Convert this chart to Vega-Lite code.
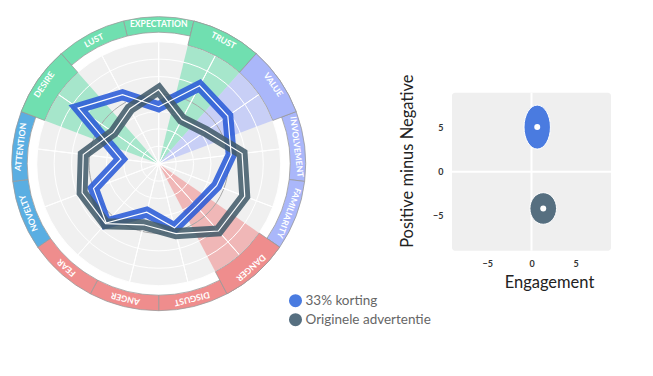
{
  "$schema": "https://vega.github.io/schema/vega-lite/v6.json",
  "padding": {"left": 9.7, "top": 14.7, "right": 0, "bottom": 0},
  "config": {"view": {"stroke": null}, "font": "Lato"},
  "datasets": {
    "cats": [
      {"i": 0, "cat": "EXPECTATION", "group": "g", "hl": "n"},
      {"i": 1, "cat": "TRUST", "group": "g", "hl": "y"},
      {"i": 2, "cat": "VALUE", "group": "v", "hl": "y"},
      {"i": 3, "cat": "INVOLVEMENT", "group": "v", "hl": "n"},
      {"i": 4, "cat": "FAMILIARITY", "group": "v", "hl": "n"},
      {"i": 5, "cat": "DANGER", "group": "r", "hl": "y"},
      {"i": 6, "cat": "DISGUST", "group": "r", "hl": "n"},
      {"i": 7, "cat": "ANGER", "group": "r", "hl": "n"},
      {"i": 8, "cat": "FEAR", "group": "r", "hl": "n"},
      {"i": 9, "cat": "NOVELTY", "group": "b", "hl": "n"},
      {"i": 10, "cat": "ATTENTION", "group": "b", "hl": "n"},
      {"i": 11, "cat": "DESIRE", "group": "g", "hl": "y"},
      {"i": 12, "cat": "LUST", "group": "g", "hl": "n"}
    ],
    "grid": [{"k": 1}, {"k": 2}, {"k": 3}, {"k": 4}, {"k": 5}, {"k": 6}],
    "radar": [
      {"series": "33% korting", "i": 0, "cat": "EXPECTATION", "v": 3.27},
      {"series": "33% korting", "i": 1, "cat": "TRUST", "v": 5.05},
      {"series": "33% korting", "i": 2, "cat": "VALUE", "v": 4.82},
      {"series": "33% korting", "i": 3, "cat": "INVOLVEMENT", "v": 4.19},
      {"series": "33% korting", "i": 4, "cat": "FAMILIARITY", "v": 3.56},
      {"series": "33% korting", "i": 5, "cat": "DANGER", "v": 3.27},
      {"series": "33% korting", "i": 6, "cat": "DISGUST", "v": 3.79},
      {"series": "33% korting", "i": 7, "cat": "ANGER", "v": 2.87},
      {"series": "33% korting", "i": 8, "cat": "FEAR", "v": 4.55},
      {"series": "33% korting", "i": 9, "cat": "NOVELTY", "v": 4.0},
      {"series": "33% korting", "i": 10, "cat": "ATTENTION", "v": 2.18},
      {"series": "33% korting", "i": 11, "cat": "DESIRE", "v": 5.62},
      {"series": "33% korting", "i": 12, "cat": "LUST", "v": 4.47},
      {"series": "Originele advertentie", "i": 0, "cat": "EXPECTATION", "v": 4.25},
      {"series": "Originele advertentie", "i": 1, "cat": "TRUST", "v": 2.87},
      {"series": "Originele advertentie", "i": 2, "cat": "VALUE", "v": 3.27},
      {"series": "Originele advertentie", "i": 3, "cat": "INVOLVEMENT", "v": 4.82},
      {"series": "Originele advertentie", "i": 4, "cat": "FAMILIARITY", "v": 5.28},
      {"series": "Originele advertentie", "i": 5, "cat": "DANGER", "v": 5.16},
      {"series": "Originele advertentie", "i": 6, "cat": "DISGUST", "v": 4.13},
      {"series": "Originele advertentie", "i": 7, "cat": "ANGER", "v": 3.61},
      {"series": "Originele advertentie", "i": 8, "cat": "FEAR", "v": 4.6},
      {"series": "Originele advertentie", "i": 9, "cat": "NOVELTY", "v": 4.7},
      {"series": "Originele advertentie", "i": 10, "cat": "ATTENTION", "v": 4.36},
      {"series": "Originele advertentie", "i": 11, "cat": "DESIRE", "v": 3.16},
      {"series": "Originele advertentie", "i": 12, "cat": "LUST", "v": 3.56}
    ],
    "scatter": [
      {"series": "33% korting", "x": 0.65, "y": 5.08},
      {"series": "Originele advertentie", "x": 1.33, "y": -4.19}
    ]
  },
  "bounds": "flush",
  "spacing": 146.3,
  "resolve": {"scale": {"color": "independent"}, "legend": {"color": "independent"}},
  "hconcat": [
    {
      "width": 294,
      "height": 294,
      "resolve": {"scale": {"theta": "independent"}},
      "layer": [
        {
          "data": {"values": [{}]},
          "mark": {"type": "arc", "radius": 122, "fill": "#f0f0f0"},
          "encoding": {}
        },
        {
          "data": {"name": "cats"},
          "mark": {"type": "arc", "radius": 122, "radius2": 0},
          "encoding": {
            "theta": {"aggregate": "count", "type": "quantitative", "stack": true, "scale": {"domain": [0, 13], "range": [-0.24166, 6.04152]}},
            "order": {"field": "i", "type": "quantitative"},
            "detail": [{"field": "cat"}, {"field": "hl"}],
            "fill": {"field": "group", "type": "nominal", "scale": {"domain": ["g", "v", "r", "b"], "range": ["#70dfb0", "#aab7fa", "#ef8d8d", "#5aaee2"]}, "legend": null},
            "fillOpacity": {"condition": {"test": "datum.hl == 'y'", "value": 0.58}, "value": 0}
          }
        },
        {
          "data": {"name": "grid"},
          "mark": {"type": "point", "shape": "circle", "filled": false, "strokeWidth": 1, "opacity": 1},
          "encoding": {
            "size": {"field": "k", "type": "quantitative", "scale": {"type": "pow", "exponent": 2, "domain": [0, 7], "range": [0, 59536]}, "legend": null},
            "stroke": {"condition": {"test": "datum.k == 4", "value": "#a8a8a8"}, "value": "#ffffff"}
          }
        },
        {
          "data": {"name": "cats"},
          "mark": {"type": "arc", "radius": 122, "radius2": 0, "filled": false, "stroke": "#ffffff", "strokeWidth": 1},
          "encoding": {
            "theta": {"aggregate": "count", "type": "quantitative", "stack": true, "scale": {"domain": [0, 13], "range": [0, 6.28319]}},
            "order": {"field": "i", "type": "quantitative"},
            "detail": {"field": "cat"}
          }
        },
        {
          "data": {"name": "radar"},
          "transform": [
            {"calculate": "datum.v * sin(2 * PI * datum.i / 13)", "as": "px"},
            {"calculate": "datum.v * cos(2 * PI * datum.i / 13)", "as": "py"}
          ],
          "mark": {"type": "line", "interpolate": "linear-closed", "strokeWidth": 11, "opacity": 0.88, "strokeJoin": "miter"},
          "encoding": {
            "x": {"field": "px", "type": "quantitative", "scale": {"domain": [-8.434, 8.434], "nice": false, "zero": false}, "axis": null},
            "y": {"field": "py", "type": "quantitative", "scale": {"domain": [-8.434, 8.434], "nice": false, "zero": false}, "axis": null},
            "stroke": {"field": "series", "type": "nominal", "scale": {"domain": ["33% korting", "Originele advertentie"], "range": ["#2a5bd7", "#435c6b"]}, "legend": null},
            "order": {"field": "i", "type": "quantitative"}
          }
        },
        {
          "data": {"name": "radar"},
          "transform": [
            {"calculate": "datum.v * sin(2 * PI * datum.i / 13)", "as": "px"},
            {"calculate": "datum.v * cos(2 * PI * datum.i / 13)", "as": "py"}
          ],
          "mark": {"type": "line", "interpolate": "linear-closed", "strokeWidth": 1.2, "stroke": "#ffffff", "strokeJoin": "miter"},
          "encoding": {
            "x": {"field": "px", "type": "quantitative"},
            "y": {"field": "py", "type": "quantitative"},
            "detail": {"field": "series"},
            "order": {"field": "i", "type": "quantitative"}
          }
        },
        {
          "data": {"name": "cats"},
          "mark": {"type": "arc", "radius": 147, "radius2": 131.5, "stroke": "#9a9a9a", "strokeWidth": 0.8},
          "encoding": {
            "theta": {"aggregate": "count", "type": "quantitative", "stack": true, "scale": {"domain": [0, 13], "range": [-0.24166, 6.04152]}},
            "order": {"field": "i", "type": "quantitative"},
            "detail": {"field": "cat"},
            "fill": {"field": "group", "type": "nominal", "legend": null}
          }
        },
        {
          "data": {"name": "cats"},
          "mark": {"type": "arc", "radius": 147, "radius2": 122, "stroke": "#9a9a9a", "strokeWidth": 0.8},
          "encoding": {
            "theta": {"aggregate": "count", "type": "quantitative", "stack": true, "scale": {"domain": [0, 13], "range": [-0.24166, 6.04152]}},
            "order": {"field": "i", "type": "quantitative"},
            "detail": [{"field": "cat"}, {"field": "hl"}],
            "fill": {"field": "group", "type": "nominal", "legend": null},
            "opacity": {"condition": {"test": "datum.hl == 'y'", "value": 1}, "value": 0}
          }
        },
        {
          "data": {"name": "cats"},
          "mark": {"type": "text", "radius": 139.3, "fontSize": 8.6, "fontWeight": "bold", "fill": "#ffffff", "align": "center", "baseline": "middle", "font": "Lato"},
          "encoding": {
            "theta": {"aggregate": "count", "type": "quantitative", "stack": true, "scale": {"domain": [0, 13], "range": [-0.24166, 6.04152]}},
            "order": {"field": "i", "type": "quantitative"},
            "text": {"field": "cat", "type": "nominal"},
            "angle": {"field": "i", "type": "quantitative", "scale": {"domain": [0, 13], "range": [0, 360]}}
          }
        }
      ]
    },
    {
      "bounds": "flush",
      "spacing": 0,
      "resolve": {"scale": {"color": "independent"}, "legend": {"color": "independent"}},
      "vconcat": [
        {
          "width": 159,
          "height": 75.3,
          "data": {"values": [{}]},
          "mark": {"type": "text", "text": ""},
          "encoding": {}
        },
        {
          "width": 159,
          "height": 158,
          "view": {"fill": "#efefef", "cornerRadius": 3},
          "layer": [
            {
              "data": {"values": [{"z": 0}]},
              "mark": {"type": "rule", "stroke": "#ffffff", "strokeWidth": 2},
              "encoding": {"x": {"field": "z", "type": "quantitative"}}
            },
            {
              "data": {"values": [{"z": 0}]},
              "mark": {"type": "rule", "stroke": "#ffffff", "strokeWidth": 2},
              "encoding": {"y": {"field": "z", "type": "quantitative"}}
            },
            {
              "data": {"name": "scatter"},
              "transform": [{"filter": "datum.series == '33% korting'"}],
              "mark": {"type": "point", "filled": true, "opacity": 1, "shape": "M0,-1.667A1,1.667,0,1,1,0,1.667A1,1.667,0,1,1,0,-1.667Z", "size": 697, "stroke": "#ffffff", "strokeWidth": 1},
              "encoding": {
                "x": {"field": "x", "type": "quantitative"},
                "y": {"field": "y", "type": "quantitative"},
                "color": {"field": "series", "type": "nominal", "scale": {"domain": ["33% korting", "Originele advertentie"], "range": ["#4a7be0", "#566f80"]},
                  "legend": {"orient": "none", "legendX": -163.5, "legendY": 201, "title": null, "symbolType": "circle", "symbolSize": 170, "symbolStrokeWidth": 0, "symbolOpacity": 1, "labelFontSize": 13.5, "labelColor": "#666666", "labelFont": "Lato", "rowPadding": 5, "labelOffset": 3, "padding": 0}}
              }
            },
            {
              "data": {"name": "scatter"},
              "transform": [{"filter": "datum.series == 'Originele advertentie'"}],
              "mark": {"type": "point", "filled": true, "opacity": 1, "shape": "M0,-1.188A1,1.188,0,1,1,0,1.188A1,1.188,0,1,1,0,-1.188Z", "size": 708, "stroke": "#ffffff", "strokeWidth": 1},
              "encoding": {
                "x": {"field": "x", "type": "quantitative"},
                "y": {"field": "y", "type": "quantitative"},
                "color": {"field": "series", "type": "nominal"}
              }
            },
            {
              "data": {"name": "scatter"},
              "mark": {"type": "point", "filled": true, "opacity": 1, "color": "#ffffff", "size": 36},
              "encoding": {
                "x": {"field": "x", "type": "quantitative", "scale": {"domain": [-9, 9], "nice": false, "zero": false},
                  "axis": {"values": [-5, 0, 5], "grid": false, "domain": false, "ticks": false, "tickSize": 0, "labelPadding": 9, "labelFontSize": 9, "labelFontWeight": "bold", "labelColor": "#333333", "labelFont": "Lato", "title": "Engagement", "titleFont": "Lato", "titleFontSize": 16.5, "titleFontWeight": "normal", "titleColor": "#222222", "titlePadding": 6, "titleX": 97}},
                "y": {"field": "y", "type": "quantitative", "scale": {"domain": [-9, 9], "nice": false, "zero": false},
                  "axis": {"values": [-5, 0, 5], "grid": false, "domain": false, "ticks": false, "tickSize": 0, "labelPadding": 9, "labelFontSize": 9, "labelFontWeight": "bold", "labelColor": "#333333", "labelFont": "Lato", "title": "Positive minus Negative", "titleFont": "Lato", "titleFontSize": 16.5, "titleFontWeight": "normal", "titleColor": "#222222", "titlePadding": 17, "titleY": 68}}
              }
            }
          ]
        }
      ]
    }
  ]
}
